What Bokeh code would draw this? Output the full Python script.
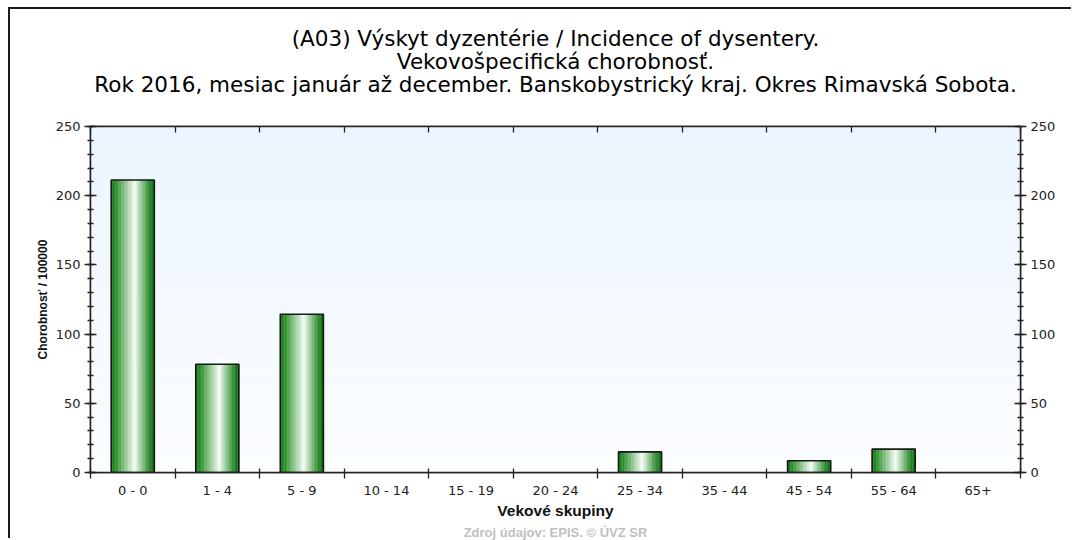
from bokeh.plotting import figure
from bokeh.models import (Range1d, LinearAxis, FixedTicker, SingleIntervalTicker,
                          BoxAnnotation, Title)
from bokeh.embed import file_html
from bokeh.resources import INLINE

# ---------------- data ----------------
categories = ["0 - 0", "1 - 4", "5 - 9", "10 - 14", "15 - 19", "20 - 24",
              "25 - 34", "35 - 44", "45 - 54", "55 - 64", "65+"]
values = [211.3, 78.2, 114.3, 0, 0, 0, 14.9, 0, 8.5, 16.9, 0]
y_ticks_interval = 50
y_max = 250

title_lines = ["(A03) Výskyt dyzentérie / Incidence of dysentery.",
               "Vekovošpecifická chorobnosť.",
               "Rok 2016, mesiac január až december. Banskobystrický kraj. Okres Rimavská Sobota."]
x_label = "Vekové skupiny"
y_label = "Chorobnosť / 100000"
footer = "Zdroj údajov: EPIS. © ÚVZ SR"

# ---------------- derived ----------------
n = len(categories)
centers = [i + 0.5 for i in range(n)]
boundaries = [float(i) for i in range(n + 1)]
bar_x = [c for c, v in zip(centers, values) if v > 0]
bar_top = [v for v in values if v > 0]

FONT = "Liberation Sans"
TFONT = "DejaVu Sans"
AX = "#222222"

p = figure(width=1063, height=531, x_range=Range1d(0, n), y_range=Range1d(0, y_max),
           output_backend="svg", toolbar_location=None, tools="",
           x_axis_location=None, y_axis_location=None,
           min_border_left=80, min_border_right=53, min_border_top=117, min_border_bottom=67)
p.styles = {"margin-left": "10px", "margin-top": "9px",
            "box-shadow": "-2px -2px 0px 0px #1a1a1a"}
p.grid.visible = False
p.background_fill_color = "#fafcff"
p.border_fill_color = "white"
p.outline_line_color = AX
p.outline_line_width = 1.5

# plot-area vertical gradient (light blue at top -> almost white at bottom)
nb = 24
top_c = (236, 245, 255)
bot_c = (251, 253, 255)
for k in range(nb):
    t = k / (nb - 1)
    col = tuple(int(round(bot_c[j] + (top_c[j] - bot_c[j]) * t)) for j in range(3))
    p.add_layout(BoxAnnotation(bottom=y_max * k / nb, top=y_max * (k + 1) / nb,
                               fill_color="#%02x%02x%02x" % col, fill_alpha=1,
                               line_color=None, level="underlay"))

# bars: horizontal green-white-green gradient built from thin strips
bar_w = 0.51
stops = [(0.0, (22, 120, 22)), (0.12, (45, 145, 45)), (0.55, (246, 253, 246)),
         (0.85, (60, 150, 60)), (1.0, (8, 104, 8))]

def grad(t):
    for (t0, c0), (t1, c1) in zip(stops[:-1], stops[1:]):
        if t0 <= t <= t1:
            f = (t - t0) / (t1 - t0)
            return "#%02x%02x%02x" % tuple(int(round(c0[j] + (c1[j] - c0[j]) * f)) for j in range(3))
    return "#%02x%02x%02x" % stops[-1][1]

ns = 30
sw = bar_w / ns
for k in range(ns):
    off = -bar_w / 2 + (k + 0.5) * sw
    c = grad((k + 0.5) / ns)
    p.vbar(x=[x + off for x in bar_x], top=bar_top, bottom=0, width=sw,
           fill_color=c, line_color=c, line_width=0.4)
p.vbar(x=bar_x, top=bar_top, bottom=0, width=bar_w, fill_alpha=0,
       line_color="#1a1a1a", line_width=1.6)

# ---------------- axes ----------------
def style_axis(ax, size="13px"):
    ax.axis_line_color = AX
    ax.axis_line_width = 1.5
    ax.major_tick_line_color = AX
    ax.minor_tick_line_color = AX
    ax.major_tick_line_width = 1.3
    ax.minor_tick_line_width = 1.3
    ax.major_label_text_font = TFONT
    ax.major_label_text_font_size = size
    ax.major_label_text_color = "#222222"

xb = LinearAxis(ticker=FixedTicker(ticks=centers, minor_ticks=boundaries),
                major_label_overrides={c: lab for c, lab in zip(centers, categories)})
style_axis(xb)
xb.major_tick_in = 0
xb.major_tick_out = 0
xb.minor_tick_in = 4
xb.minor_tick_out = 6
xb.major_label_standoff = 4
xb.axis_label = x_label
xb.axis_label_text_font = FONT
xb.axis_label_text_font_style = "bold"
xb.axis_label_text_font_size = "15.5px"
xb.axis_label_text_color = "#111111"
xb.axis_label_standoff = 1
p.add_layout(xb, "below")

xt = LinearAxis(ticker=FixedTicker(ticks=centers, minor_ticks=boundaries),
                major_label_overrides={c: "" for c in centers})
style_axis(xt)
xt.major_tick_in = 0
xt.major_tick_out = 0
xt.minor_tick_in = 6
xt.minor_tick_out = 0
xt.major_label_standoff = 0
xt.major_label_text_font_size = "1px"
p.add_layout(xt, "above")

yl = LinearAxis(ticker=SingleIntervalTicker(interval=y_ticks_interval, num_minor_ticks=5))
style_axis(yl)
yl.major_tick_in = 6
yl.major_tick_out = 6
yl.minor_tick_in = 3
yl.minor_tick_out = 3
yl.major_label_standoff = 4
yl.axis_label = y_label
yl.axis_label_text_font = FONT
yl.axis_label_text_font_style = "bold"
yl.axis_label_text_font_size = "12px"
yl.axis_label_text_color = "#111111"
yl.axis_label_standoff = 3
p.add_layout(yl, "left")

yr = LinearAxis(ticker=SingleIntervalTicker(interval=y_ticks_interval, num_minor_ticks=5))
style_axis(yr)
yr.major_tick_in = 6
yr.major_tick_out = 6
yr.minor_tick_in = 3
yr.minor_tick_out = 3
yr.major_label_standoff = 4
p.add_layout(yr, "right")

# ---------------- titles (one per line, stacked upward from the frame) ----------------
p.title.text = ""
p.title.visible = False
# empty spacer between the frame and the title block
p.add_layout(Title(text=" ", text_font=TFONT, text_font_size="21.5px", standoff=4.5), "above")
for line in reversed(title_lines):
    p.add_layout(Title(text=line, align="center", text_font=TFONT, text_font_size="21.5px",
                       text_font_style="normal", text_color="#000000", standoff=-4), "above")

p.add_layout(Title(text=footer, align="center", text_font=FONT, text_font_size="13px",
                   text_font_style="bold", text_color="#c0c0c0", standoff=2), "below")

open("out.html", "w").write(file_html(p, INLINE))
